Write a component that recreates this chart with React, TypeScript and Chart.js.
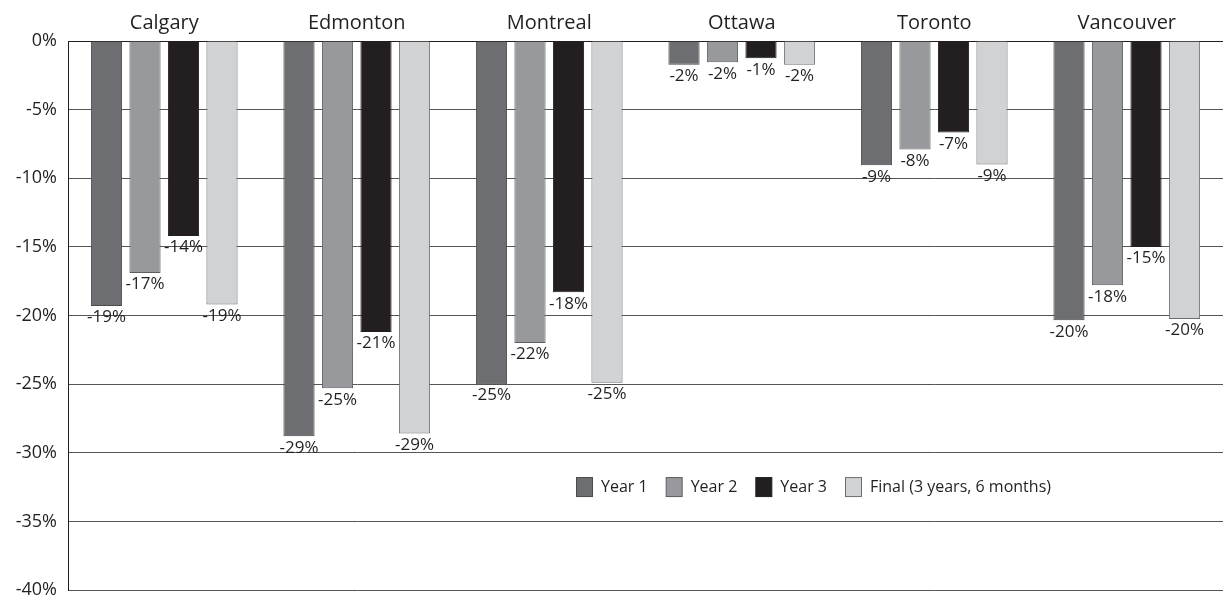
import React, { useEffect, useRef } from "react";
import { Chart, registerables } from "chart.js";

Chart.register(...registerables);

const cities = ["Calgary", "Edmonton", "Montreal", "Ottawa", "Toronto", "Vancouver"];
const seriesNames = ["Year 1", "Year 2", "Year 3", "Final (3 years, 6 months)"];
const year1 = [-19.3, -28.8, -25.0, -1.73, -9.05, -20.35];
const year2 = [-16.9, -25.3, -22.0, -1.55, -7.9, -17.8];
const year3 = [-14.2, -21.2, -18.3, -1.26, -6.66, -15.0];
const final = [-19.2, -28.6, -24.9, -1.73, -9.0, -20.25];
const yTicks = [0, -5, -10, -15, -20, -25, -30, -35, -40];

const fills = ["#6d6e71", "#98999c", "#231f20", "#d1d2d4"];
const borders = ["#4a4a4c", "#5c5d60", "#231f20", "#6d6e71"];
const FONT = "'Open Sans', sans-serif";

const valueLabels = {
  id: "valueLabels",
  afterDatasetsDraw(chart: any) {
    const ctx = chart.ctx;
    ctx.save();
    ctx.font = `17px ${FONT}`;
    ctx.fillStyle = "#231f20";
    ctx.textAlign = "center";
    ctx.textBaseline = "top";
    chart.data.datasets.forEach((ds: any, di: number) => {
      const meta = chart.getDatasetMeta(di);
      meta.data.forEach((el: any, i: number) => {
        const v = ds.data[i];
        ctx.fillText(`${Math.round(v)}%`, el.x, el.y + 3);
      });
    });
    ctx.restore();
  },
};

const innerLegend = {
  id: "innerLegend",
  afterDraw(chart: any) {
    const ctx = chart.ctx;
    const area = chart.chartArea;
    const y = chart.scales.y.getPixelForValue(-32.5);
    ctx.save();
    ctx.font = `16px ${FONT}`;
    ctx.textBaseline = "middle";
    ctx.textAlign = "left";
    let x = area.left + 508;
    chart.data.datasets.forEach((ds: any) => {
      ctx.fillStyle = ds.backgroundColor;
      ctx.fillRect(x + 0.5, y - 9.5, 16, 19);
      ctx.strokeStyle = ds.borderColor;
      ctx.lineWidth = 1;
      ctx.strokeRect(x + 0.5, y - 9.5, 16, 19);
      ctx.fillStyle = "#231f20";
      ctx.fillText(ds.label, x + 25, y);
      x += 25 + ctx.measureText(ds.label).width + 18;
    });
    ctx.restore();
  },
};

export default function App() {
  const ref = useRef<HTMLCanvasElement>(null);
  useEffect(() => {
    document.body.style.margin = "0";
    const data = [year1, year2, year3, final];
    const chart = new Chart(ref.current!, {
      type: "bar",
      data: {
        labels: cities,
        datasets: seriesNames.map((name, i) => ({
          label: name,
          data: data[i],
          backgroundColor: fills[i],
          borderColor: borders[i],
          borderWidth: 1,
          categoryPercentage: 0.8,
          barPercentage: 0.81,
        })),
      },
      options: {
        animation: false,
        responsive: false,
        layout: { padding: { top: 0, right: 0, bottom: 11, left: 0 } },
        plugins: { legend: { display: false }, tooltip: { enabled: false } },
        scales: {
          x: {
            position: "top",
            grid: { display: false, drawTicks: false },
            border: { display: true, color: "#231f20", width: 1 },
            ticks: { color: "#231f20", font: { family: FONT, size: 20 }, padding: 6 },
            afterFit: (s: any) => { s.height = 41; },
          },
          y: {
            min: -40,
            max: 0,
            afterBuildTicks: (s: any) => { s.ticks = yTicks.map((v) => ({ value: v })); },
            grid: { color: "#555", lineWidth: 1, drawTicks: false },
            border: { display: true, color: "#231f20", width: 1 },
            ticks: {
              color: "#231f20",
              font: { family: FONT, size: 18 },
              padding: 11,
              callback: (v: any) => `${v}%`,
            },
            afterFit: (s: any) => {
              s.width = 68;
              s.paddingTop = 0;
              s.paddingBottom = 0;
            },
          },
        },
      },
      plugins: [valueLabels, innerLegend],
    });
    return () => chart.destroy();
  }, []);
  return <canvas ref={ref} width={1223} height={601} style={{ display: "block" }} />;
}
